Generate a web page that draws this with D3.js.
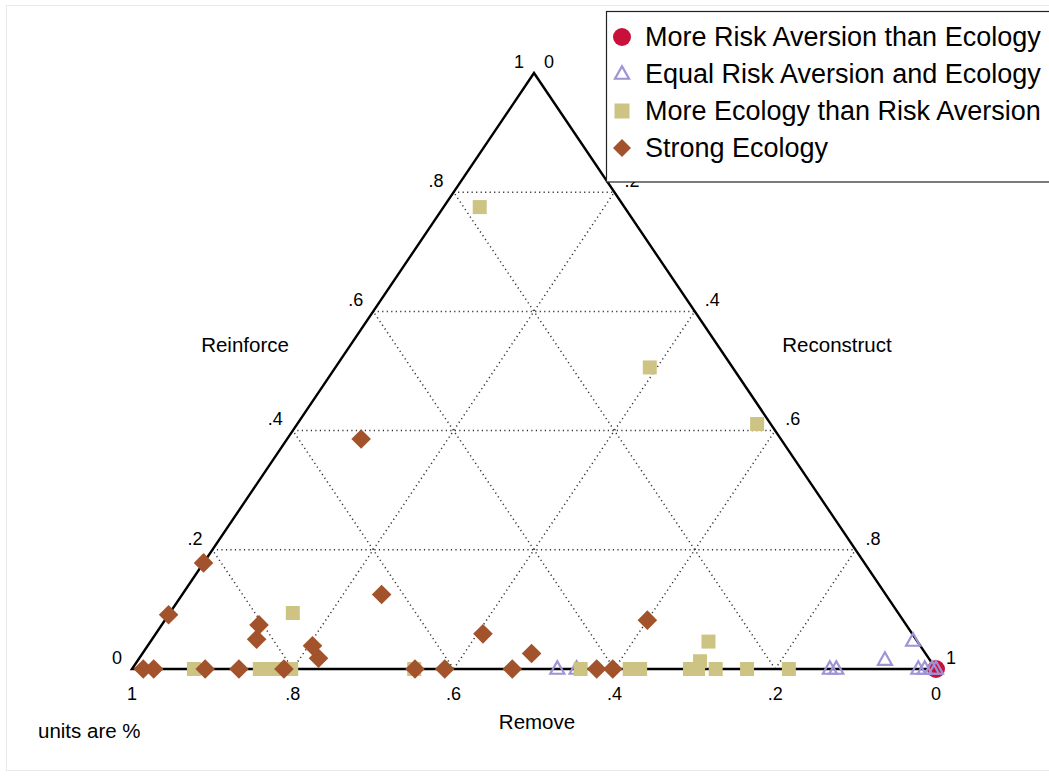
<!DOCTYPE html>
<html>
<head>
<meta charset="utf-8">
<script src="https://cdn.jsdelivr.net/npm/d3@7/dist/d3.min.js"></script>
<style>
  html, body { margin: 0; padding: 0; background: #fff; }
  svg { display: block; font-family: "Liberation Sans", Arial, sans-serif; }
</style>
</head>
<body>
<svg id="chart" width="1049" height="776"></svg>
<script>
// ---------- DATA (fractions: [Remove, Reinforce, Reconstruct]) ----------
const axisTicks = [0, 0.2, 0.4, 0.6, 0.8, 1];
const gridLevels = [0.2, 0.4, 0.6, 0.8];
const seriesNames = [
  "More Risk Aversion than Ecology",
  "Equal Risk Aversion and Ecology",
  "More Ecology than Risk Aversion",
  "Strong Ecology"
];
// each point: [reinforce, reconstruct]; remove = 1 - reinforce - reconstruct
const moreRiskAversion = [[0, 1]];
const equalRiskEcology = [
  [0, 0.529], [0, 0.553], [0, 0.868], [0, 0.876], [0, 0.978], [0, 0.986],
  [0, 0.995], [0, 1.0], [0.015, 0.929], [0.047, 0.948]
];
const moreEcology = [
  [0.775, 0.045], [0.506, 0.391], [0.411, 0.572], [0.094, 0.153],
  [0.046, 0.694], [0.013, 0.700],
  [0, 0.077], [0, 0.159], [0, 0.169], [0, 0.179], [0, 0.198], [0, 0.351],
  [0, 0.558], [0, 0.619], [0, 0.632], [0, 0.694], [0, 0.704], [0, 0.726],
  [0, 0.765], [0, 0.817]
];
const strongEcology = [
  [0.386, 0.092], [0.178, 0], [0.091, 0], [0.125, 0.248], [0.074, 0.121],
  [0.050, 0.130], [0.039, 0.205], [0.018, 0.223], [0.059, 0.407],
  [0.026, 0.484], [0.082, 0.600],
  [0, 0.014], [0, 0.027], [0, 0.091], [0, 0.133], [0, 0.189], [0, 0.352],
  [0, 0.389], [0, 0.473], [0, 0.578], [0, 0.598]
];

// ---------- LAYOUT ----------
const svg = d3.select("#chart");
const xBase = d3.scaleLinear().domain([0, 1]).range([132, 936]); // reconstruct along base
const yScale = d3.scaleLinear().domain([0, 1]).range([669, 73]);  // reinforce height
const P = (f, c) => [xBase(c + f / 2), yScale(f)];
const fmt = v => v === 0 ? "0" : v === 1 ? "1" : String(v).replace("0.", ".");

const colors = ["#c8103a", "#9d93d6", "#cdc383", "#a3532c"];

// outer faint frame
svg.append("rect").attr("x", 6.5).attr("y", 5.5).attr("width", 1045).attr("height", 765)
  .attr("fill", "none").attr("stroke", "#e6eaea").attr("stroke-width", 1);

// gridlines
const grid = svg.append("g").attr("stroke", "#333").attr("stroke-width", 1.5)
  .attr("stroke-dasharray", "1.2,3.3").attr("fill", "none");
gridLevels.forEach(v => {
  const segs = [
    [P(v, 0), P(v, 1 - v)],
    [P(0, v), P(1 - v, v)],
    [P(0, 1 - v), P(1 - v, 0)]
  ];
  segs.forEach(s => grid.append("line")
    .attr("x1", s[0][0]).attr("y1", s[0][1]).attr("x2", s[1][0]).attr("y2", s[1][1]));
});

// triangle outline
const tri = [P(0, 0), P(1, 0), P(0, 1)];
svg.append("path").attr("d", d3.line()(tri) + "Z")
  .attr("fill", "none").attr("stroke", "#000").attr("stroke-width", 2.4)
  .attr("stroke-linejoin", "miter");

// tick labels
const tickG = svg.append("g").attr("font-size", 18).attr("fill", "#000");
axisTicks.forEach(v => {
  const pl = P(v, 0);
  tickG.append("text").attr("x", pl[0] - 10).attr("y", pl[1] - 10)
    .attr("text-anchor", "end").attr("dominant-baseline", "middle").text(fmt(v));
  const pr = P(1 - v, v);
  tickG.append("text").attr("x", pr[0] + 10).attr("y", pr[1] - 10)
    .attr("text-anchor", "start").attr("dominant-baseline", "middle").text(fmt(v));
  const pb = P(0, 1 - v);
  tickG.append("text").attr("x", pb[0]).attr("y", pb[1] + 26)
    .attr("text-anchor", "middle").attr("dominant-baseline", "middle").text(fmt(v));
});

// axis titles
const tg = svg.append("g").attr("font-size", 20.5).attr("fill", "#000")
  .attr("text-anchor", "middle").attr("dominant-baseline", "middle");
tg.append("text").attr("x", 245).attr("y", 347).text("Reinforce");
tg.append("text").attr("x", 837).attr("y", 347).text("Reconstruct");
tg.append("text").attr("x", 537).attr("y", 724).text("Remove");
svg.append("text").attr("x", 38).attr("y", 733).attr("font-size", 20.5)
  .attr("dominant-baseline", "middle").text("units are %");

// marker shapes
function drawMarker(g, type, x, y, legend) {
  if (type === 0) {
    g.append("circle").attr("cx", x).attr("cy", y).attr("r", 9).attr("fill", colors[0]);
  } else if (type === 1) {
    const h = 12.5, w = 14;
    g.append("path")
      .attr("d", `M${x},${y - h * 0.62} L${x + w / 2},${y + h * 0.38} L${x - w / 2},${y + h * 0.38} Z`)
      .attr("fill", "none").attr("stroke", colors[1]).attr("stroke-width", 2.2)
      .attr("stroke-linejoin", "miter");
  } else if (type === 2) {
    const s = legend ? 15 : 14;
    g.append("rect").attr("x", x - s / 2).attr("y", y - s / 2).attr("width", s).attr("height", s)
      .attr("fill", colors[2]);
  } else {
    const d = legend ? 9 : 9.8;
    g.append("path").attr("d", `M${x},${y - d} L${x + d},${y} L${x},${y + d} L${x - d},${y} Z`)
      .attr("fill", colors[3]);
  }
}

const groups = [moreRiskAversion, equalRiskEcology, moreEcology, strongEcology];
const markG = svg.append("g");
groups.forEach((pts, i) => {
  pts.forEach(p => {
    const xy = P(p[0], p[1]);
    drawMarker(markG, i, xy[0], xy[1], false);
  });
});

// legend
const lg = svg.append("g");
lg.append("rect").attr("x", 606.5).attr("y", 11.5).attr("width", 460).attr("height", 170.5)
  .attr("fill", "#fff").attr("stroke", "#222").attr("stroke-width", 1.2);
seriesNames.forEach((name, i) => {
  const y = 37 + i * 37;
  drawMarker(lg, i, 622, y, true);
  lg.append("text").attr("x", 645).attr("y", y + 2).attr("font-size", 27)
    .attr("dominant-baseline", "middle").attr("fill", "#000").text(name);
});
</script>
</body>
</html>
